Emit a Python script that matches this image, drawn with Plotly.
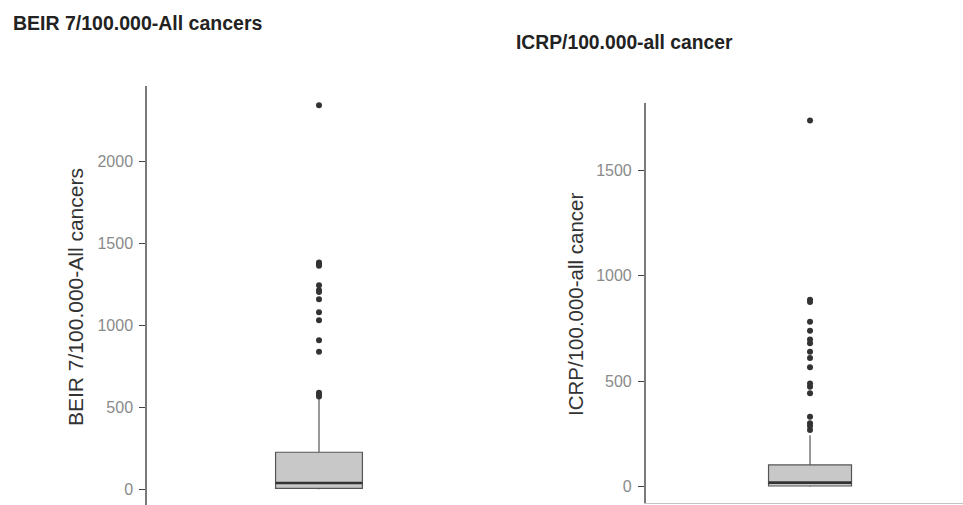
import plotly.graph_objects as go

W, H = 963, 505

# ---- data ----
beir_title = "BEIR 7/100.000-All cancers"
icrp_title = "ICRP/100.000-all cancer"

beir_q1, beir_median, beir_q3 = 5, 38, 226
beir_lowerfence, beir_upperfence = 0, 555
beir_outliers = [2345, 1385, 1375, 1365, 1245, 1215, 1205, 1160, 1080, 1032, 910, 840, 590, 578, 566]

icrp_q1, icrp_median, icrp_q3 = 3, 19, 103
icrp_lowerfence, icrp_upperfence = 0, 243
icrp_outliers = [1735, 885, 875, 781, 738, 697, 679, 639, 610, 565, 489, 473, 442, 331, 300, 287, 268]

beir_ticks = [0, 500, 1000, 1500, 2000]
icrp_ticks = [0, 500, 1000, 1500]

# ---- style ----
FONT = "Liberation Sans"
BOX_FILL = "#c8c8c8"
BOX_LINE = "#555555"
PT_COLOR = "#333333"
BOXW = 0.505

fig = go.Figure()

def add_panel(xa, ya, q1, med, q3, lo, hi, outl):
    fig.add_trace(go.Box(
        x=[1], q1=[q1], median=[med], q3=[q3], lowerfence=[lo], upperfence=[hi],
        width=BOXW, whiskerwidth=0, fillcolor=BOX_FILL,
        line=dict(color=BOX_LINE, width=1.2), boxpoints=False,
        xaxis=xa, yaxis=ya, hoverinfo="skip"))
    fig.add_trace(go.Scatter(
        x=[1 - BOXW / 2, 1 + BOXW / 2], y=[med, med], mode="lines",
        line=dict(color="#333333", width=2.6), xaxis=xa, yaxis=ya, hoverinfo="skip"))
    fig.add_trace(go.Scatter(
        x=[1] * len(outl), y=outl, mode="markers",
        marker=dict(color=PT_COLOR, size=6), xaxis=xa, yaxis=ya, hoverinfo="skip"))

add_panel("x", "y", beir_q1, beir_median, beir_q3, beir_lowerfence, beir_upperfence, beir_outliers)
add_panel("x2", "y2", icrp_q1, icrp_median, icrp_q3, icrp_lowerfence, icrp_upperfence, icrp_outliers)

yax_common = dict(
    showgrid=False, zeroline=False, showline=True, linecolor="#7a7a7a", linewidth=1.5,
    ticks="outside", ticklen=6, tickcolor="#444444", tickwidth=1.2, ticklabelstandoff=3,
    tickfont=dict(family=FONT, size=16, color="#8a8a8a"), fixedrange=True)

fig.update_layout(
    width=W, height=H, margin=dict(l=0, r=0, t=0, b=0),
    paper_bgcolor="white", plot_bgcolor="white", showlegend=False,
    xaxis=dict(domain=[147 / W, 491 / W], range=[0, 2], showticklabels=False, ticks="",
               showgrid=False, zeroline=False, showline=False, anchor="y", fixedrange=True),
    yaxis=dict(domain=[0, (H - 86) / H], range=[-96, 2462], tickvals=beir_ticks,
               anchor="x", **yax_common),
    xaxis2=dict(domain=[645.7 / W, 1], range=[0, 1.931], showticklabels=False, ticks="",
                showgrid=False, zeroline=False, showline=True, linecolor="#c4c4c4",
                linewidth=1.2, anchor="y2", fixedrange=True),
    yaxis2=dict(domain=[(H - 503.3) / H, (H - 102.7) / H], range=[-79, 1819],
                tickvals=icrp_ticks, anchor="x2", **yax_common),
)

# titles
fig.add_annotation(text="<b>" + beir_title + "</b>", xref="paper", yref="paper",
                   x=11 / W, y=(H - 23) / H, xanchor="left", yanchor="middle", showarrow=False,
                   font=dict(family=FONT, size=19.5, color="#222222"))
fig.add_annotation(text="<b>" + icrp_title + "</b>", xref="paper", yref="paper",
                   x=514 / W, y=(H - 43) / H, xanchor="left", yanchor="middle", showarrow=False,
                   font=dict(family=FONT, size=19.3, color="#222222"))
# axis titles
fig.add_annotation(text=beir_title, xref="paper", yref="paper", x=75 / W, y=(H - 297) / H,
                   textangle=-90, showarrow=False, xanchor="center", yanchor="middle",
                   font=dict(family=FONT, size=21, color="#333333"))
fig.add_annotation(text=icrp_title, xref="paper", yref="paper", x=575 / W, y=(H - 304) / H,
                   textangle=-90, showarrow=False, xanchor="center", yanchor="middle",
                   font=dict(family=FONT, size=20.5, color="#333333"))

fig.write_html("out.html", config={"displayModeBar": False},
               post_script="document.body.style.margin='0';document.body.style.overflow='hidden';")
